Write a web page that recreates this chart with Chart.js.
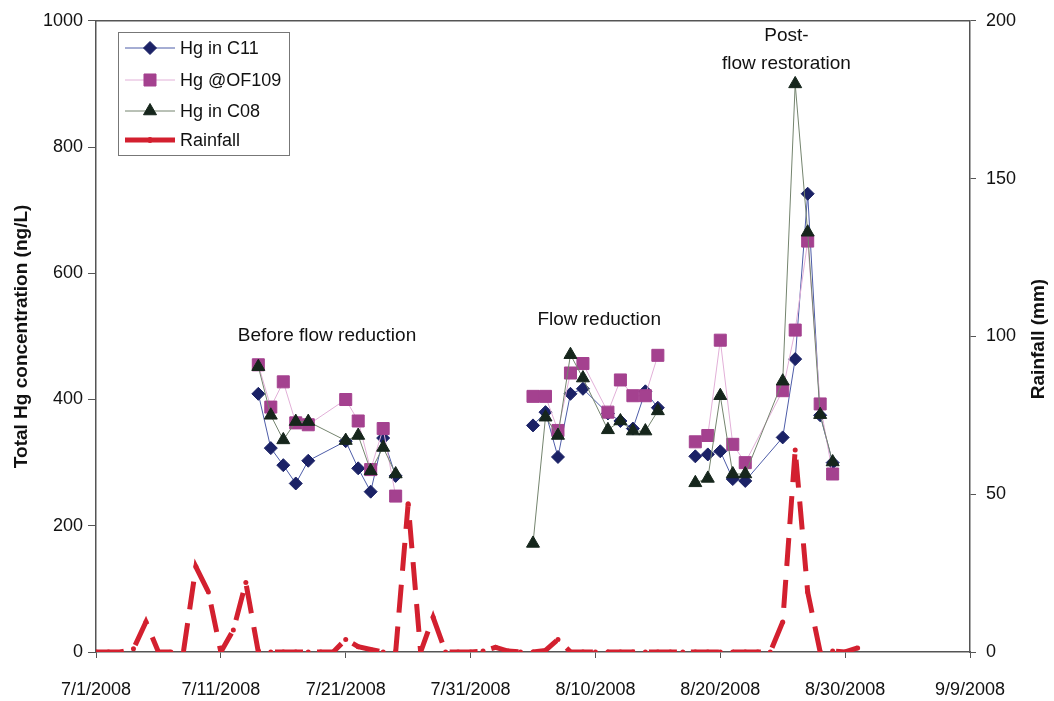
<!DOCTYPE html>
<html>
<head>
<meta charset="utf-8">
<title>Hg and rainfall</title>
<script src="https://cdn.jsdelivr.net/npm/chart.js@4.4.1/dist/chart.umd.min.js"></script>
<style>
  html, body { margin: 0; padding: 0; background: #fff; }
  #wrap { width: 1054px; height: 701px; }
</style>
</head>
<body>
<div id="wrap"><canvas id="hgChart" width="1054" height="701"></canvas></div>
<script>
// sampling dates (2008) and Hg values
const hgDates = ['7/14', '7/15', '7/16', '7/17', '7/18', '7/21', '7/22', '7/23', '7/24', '7/25',
                 '8/5', '8/6', '8/7', '8/8', '8/9', '8/11', '8/12', '8/13', '8/14', '8/15',
                 '8/18', '8/19', '8/20', '8/21', '8/22', '8/25', '8/26', '8/27', '8/28', '8/29'];
const gapBefore = ['8/5', '8/18'];

const hgC11 = [409, 323, 296, 267, 303, 334, 291, 254, 339, 279,
               359, 380, 309, 409, 417, 378, 366, 354, 413, 387,
               310, 313, 318, 274, 271, 340, 464, 726, 375, 300];
const hgOF109 = [455, 388, 428, 363, 360, 400, 366, 289, 354, 247,
                 405, 405, 351, 442, 457, 380, 431, 406, 406, 470,
                 333, 343, 494, 329, 300, 414, 510, 651, 393, 282];
const hgC08 = [452, 375, 336, 365, 365, 335, 343, 287, 324, 282,
               172, 372, 343, 471, 434, 352, 366, 350, 350, 382,
               268, 275, 406, 282, 282, 429, 900, 665, 376, 301];

// daily rainfall (mm) from 7/1 to 8/31
const rainStart = '7/1';
const rainfall = [0, 0, 0, 1, 9.5, 0, 0, 0, 27, 19,
                  0, 7, 22, 0, 0, 0, 0, 0, 0, 0,
                  4, 1.7, 0.8, 0, 0, 47, 0, 11, 0, 0,
                  0, 0.3, 1.5, 0.3, 0, 0, 0.5, 4, 0, 0,
                  0, 0, 0, 0, 0, 0, 0, 0, 0, 0,
                  0, 0, 0, 0, 0, 9.5, 64, 19, 0, 0.3,
                  0, 1.3];

// axes
const xMin = 0, xMax = 70, xStep = 10;   // days after 7/1/2008
const hgMax = 1000, hgStep = 200;
const rainMax = 200, rainStep = 50;

const fontFam = '"Liberation Sans", Arial, sans-serif';
const axisColor = '#555';

const day0 = new Date(2008, 6, 1);
const dayOf = (md) => {
    const [m, d] = md.split('/').map(Number);
    return Math.round((new Date(2008, m - 1, d) - day0) / 86400000);
};
const dateLabel = (v) => {
    const d = new Date(2008, 6, 1 + v);
    return (d.getMonth() + 1) + '/' + d.getDate() + '/' + d.getFullYear();
};

// points with a break between the three campaigns
const toPoints = (values) => {
    const pts = [];
    hgDates.forEach((d, i) => {
        if (gapBefore.includes(d)) pts.push({ x: dayOf(d) - 1, y: null });
        pts.push({ x: dayOf(d), y: values[i] });
    });
    return pts;
};
const rainPoints = rainfall.map((v, i) => ({ x: dayOf(rainStart) + i, y: v }));

const series = [
    { label: 'Hg in C11', values: hgC11, line: '#4d5ca8', mark: '#1b2266', style: 'rectRot', r: 6.5, order: 3 },
    { label: 'Hg @OF109', values: hgOF109, line: '#e2b0d8', mark: '#a4418f', style: 'rect', r: 8.5, order: 2 },
    { label: 'Hg in C08', values: hgC08, line: '#74846e', mark: '#16261c', style: 'triangle', r: 7.5, order: 1 }
];
const rainColor = '#d3202f';

const datasets = series.map(s => ({
    label: s.label,
    data: toPoints(s.values),
    yAxisID: 'y',
    borderColor: s.line,
    borderWidth: 1,
    pointStyle: s.style,
    pointRadius: s.r,
    pointBackgroundColor: s.mark,
    pointBorderColor: s.mark,
    pointBorderWidth: 1,
    tension: 0,
    order: s.order
}));
datasets.push({
    label: 'Rainfall',
    data: rainPoints,
    yAxisID: 'y2',
    borderColor: rainColor,
    borderWidth: 5,
    borderDash: [28, 14],
    borderCapStyle: 'butt',
    pointStyle: 'circle',
    pointRadius: 2.5,
    pointBackgroundColor: rainColor,
    pointBorderWidth: 0,
    tension: 0,
    order: 4
});

// text labels placed in data coordinates
const notes = [
    { text: 'Before flow reduction', x: 18.5, y: 501 },
    { text: 'Flow reduction', x: 40.3, y: 526 },
    { text: 'Post-', x: 55.3, y: 976 },
    { text: 'flow restoration', x: 55.3, y: 932 }
];

const extras = {
    id: 'extras',
    afterDraw(chart) {
        const { ctx, chartArea: a, scales } = chart;
        ctx.save();

        // top border of the frame
        ctx.strokeStyle = axisColor;
        ctx.lineWidth = 1.5;
        ctx.beginPath();
        ctx.moveTo(a.left, a.top);
        ctx.lineTo(a.right, a.top);
        ctx.stroke();

        // axis titles
        ctx.fillStyle = '#111';
        ctx.font = 'bold 19px ' + fontFam;
        ctx.textAlign = 'center';
        ctx.textBaseline = 'middle';
        ctx.save();
        ctx.translate(22, (a.top + a.bottom) / 2);
        ctx.rotate(-Math.PI / 2);
        ctx.fillText('Total Hg concentration (ng/L)', 0, 0);
        ctx.restore();
        ctx.save();
        ctx.translate(1039, 339);
        ctx.rotate(-Math.PI / 2);
        ctx.fillText('Rainfall (mm)', 0, 0);
        ctx.restore();

        // annotations
        ctx.font = '19px ' + fontFam;
        notes.forEach(n => {
            ctx.fillText(n.text, scales.x.getPixelForValue(n.x), scales.y.getPixelForValue(n.y));
        });

        // legend
        const bx = 118, by = 32, bw = 171, bh = 123;
        ctx.fillStyle = '#fff';
        ctx.fillRect(bx, by, bw, bh);
        ctx.strokeStyle = '#777';
        ctx.lineWidth = 1;
        ctx.strokeRect(bx + 0.5, by + 0.5, bw, bh);
        const rows = [48, 80, 111, 140];
        const items = series.map(s => ({ label: s.label, line: s.line, mark: s.mark, style: s.style, r: s.r, w: 1 }));
        items.push({ label: 'Rainfall', line: rainColor, mark: rainColor, style: 'circle', r: 2.5, w: 5 });
        items.forEach((it, i) => {
            const y = rows[i];
            ctx.strokeStyle = it.line;
            ctx.lineWidth = it.w;
            ctx.beginPath();
            ctx.moveTo(125, y);
            ctx.lineTo(175, y);
            ctx.stroke();
            ctx.fillStyle = it.mark;
            ctx.strokeStyle = it.mark;
            ctx.lineWidth = 1;
            Chart.helpers.drawPoint(ctx, { pointStyle: it.style, radius: it.r, rotation: 0, borderWidth: 1 }, 150, y);
            ctx.fillStyle = '#111';
            ctx.font = '18px ' + fontFam;
            ctx.textAlign = 'left';
            ctx.textBaseline = 'middle';
            ctx.fillText(it.label, 180, y + 1);
        });

        ctx.restore();
    }
};

const tickFont = { family: fontFam, size: 18 };

new Chart(document.getElementById('hgChart').getContext('2d'), {
    type: 'line',
    data: { datasets },
    options: {
        responsive: false,
        animation: false,
        events: [],
        layout: { padding: { top: 17, left: 0, right: 0, bottom: 0 } },
        plugins: { legend: { display: false }, tooltip: { enabled: false } },
        scales: {
            x: {
                type: 'linear',
                min: xMin,
                max: xMax,
                ticks: { stepSize: xStep, callback: dateLabel, font: tickFont, color: '#111', padding: 21, maxRotation: 0, autoSkip: false },
                grid: { drawOnChartArea: false, tickLength: 6, color: axisColor },
                border: { color: axisColor, width: 1.5 },
                afterFit: s => { s.height = 49; }
            },
            y: {
                position: 'left',
                min: 0,
                max: hgMax,
                ticks: { stepSize: hgStep, font: tickFont, color: '#111', padding: 5, callback: v => String(v) },
                grid: { drawOnChartArea: false, tickLength: 8, color: axisColor },
                border: { color: axisColor, width: 1.5 },
                afterFit: s => { s.width = 96; }
            },
            y2: {
                position: 'right',
                min: 0,
                max: rainMax,
                ticks: { stepSize: rainStep, font: tickFont, color: '#111', padding: 10, callback: v => String(v) },
                grid: { drawOnChartArea: false, tickLength: 6, color: axisColor },
                border: { color: axisColor, width: 1.5 },
                afterFit: s => { s.width = 84; }
            }
        }
    },
    plugins: [extras]
});
</script>
</body>
</html>
